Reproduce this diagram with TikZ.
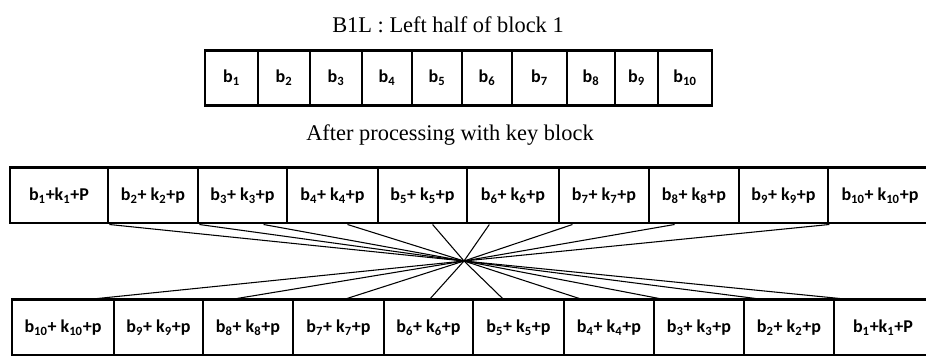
\documentclass[tikz,border=0pt]{standalone}
\usepackage{fontspec}
\setmainfont{Liberation Serif}
\newfontfamily\calfont{Carlito}
\usetikzlibrary{calc}
\newcommand{\bkp}[1]{b\textsubscript{#1}+ k\textsubscript{#1}+p}
\tikzset{
	cell/.style={draw, line width=2pt, inner sep=0pt, minimum height=41.5pt, font=\calfont\bfseries\fontsize{13.5}{16}\selectfont},
	link/.style={line width=0.8pt},
	heading/.style={anchor=base, font=\fontsize{16.8}{20}\selectfont}
}

\begin{document}
\begin{tikzpicture}[x=0.75pt, y=-0.75pt]
	\useasboundingbox (0,0) rectangle (926,356);
	\node[heading] (title) at (448,33) {B1L : Left half of block 1};
	% left half of block 1
	\foreach \l/\r/\t [count=\i] in {205/258/1, 258/310/2, 310/362/3, 362/412/4, 412/462/5, 462/512/6, 512/567/7, 567/615/8, 615/658/9, 658/712/10}
		\node[cell, minimum width={(\r-\l)*0.75pt}] (b\i) at ({(\l+\r)/2},78) {b\textsubscript{\t}};
	\node[heading] (after) at (450,141) {After processing with key block};
	% after key block
	\foreach \l/\r/\t [count=\i] in {10/108/{b\textsubscript{1}+k\textsubscript{1}+P}, 108/198/{\bkp{2}}, 198/287/{\bkp{3}}, 287/378/{\bkp{4}}, 378/467/{\bkp{5}}, 467/559/{\bkp{6}}, 559/649/{\bkp{7}}, 649/739/{\bkp{8}}, 739/828/{\bkp{9}}, 828/932/{\bkp{10}}}
		\node[cell, minimum width={(\r-\l)*0.75pt}] (m\i) at ({(\l+\r)/2},195.5) {\t};
	% reversed order
	\foreach \l/\r/\t [count=\i] in {12/114/{\bkp{10}}, 114/203/{\bkp{9}}, 203/293/{\bkp{8}}, 293/384/{\bkp{7}}, 384/473/{\bkp{6}}, 473/564/{\bkp{5}}, 564/654/{\bkp{4}}, 654/744/{\bkp{3}}, 744/834/{\bkp{2}}, 834/932/{b\textsubscript{1}+k\textsubscript{1}+P}}
		\node[cell, minimum width={(\r-\l)*0.75pt}] (r\i) at ({(\l+\r)/2},327.5) {\t};
	\coordinate (X) at (464,261);
	\foreach \n/\f in {m1/1, m2/1, m3/.73, m4/.66, m5/.61, m6/.25, m7/.16, m8/.29, m9/1}
		\draw[link] ($(\n.south west)!\f!(\n.south east)$) -- (X);
	\foreach \n/\f in {r1/.83, r3/.38, r4/.59, r5/.52, r6/.33, r7/.18, r8/.07, r9/.14, r10/.07}
		\draw[link] (X) -- ($(\n.north west)!\f!(\n.north east)$);
\end{tikzpicture}
\end{document}
